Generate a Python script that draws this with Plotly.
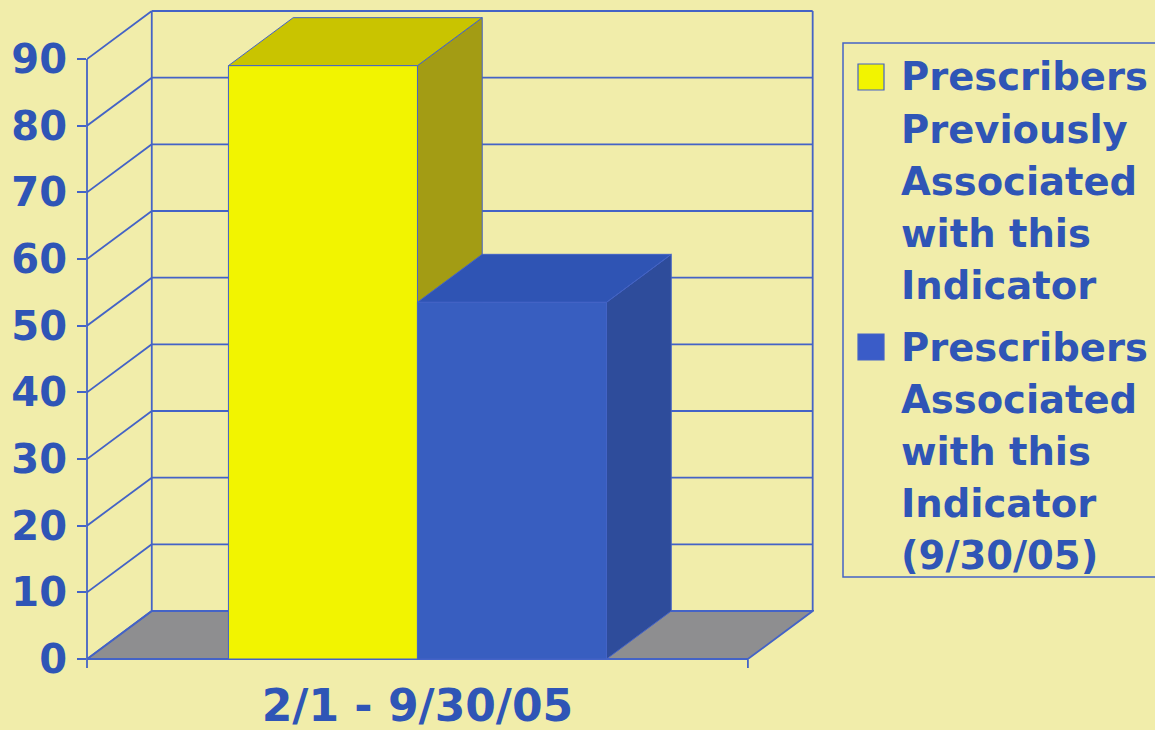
import textwrap
import plotly.graph_objects as go

# ---------------- data ----------------
CATEGORIES = ["2/1 - 9/30/05"]
SERIES_NAMES = [
    "Prescribers Previously Associated with this Indicator",
    "Prescribers Associated with this Indicator (9/30/05)",
]
SERIES_VALUES = [[89], [53.5]]
Y_TICKS = [0, 10, 20, 30, 40, 50, 60, 70, 80, 90]

# ---------------- styles ----------------
FRONT = ["#F2F400", "#385EC0"]
TOP = ["#C9C400", "#2F54B4"]
SIDE = ["#A39C14", "#2E4C9B"]
LEGEND_SWATCH = ["#F2F400", "#3A5CC8"]
LINE = "#4463C6"
TEXT = "#2F55B6"
BG = "#F1EDAA"
FLOOR = "#8E8E90"
FONT = "DejaVu Sans"

W, H = 1155, 730
ML, MR, MT, MB = 87, 341, 10, 71
PW = W - ML - MR
PH = H - MT - MB

X_RANGE = [-0.5, 0.6]
Y_RANGE = [0, 97.35]
BARGAP = 0.428
DEPTH_X = 0.098   # depth offset in category units
DEPTH_Y = 7.2     # depth offset in value units


def px_to_paper_x(px):
    return (px - ML) / PW


def px_to_paper_y(py):
    return (H - MB - py) / PH


n_series = len(SERIES_NAMES)
bar_w = (1 - BARGAP) / n_series
x_pos = list(range(len(CATEGORIES)))

fig = go.Figure()
for i, (name, vals) in enumerate(zip(SERIES_NAMES, SERIES_VALUES)):
    fig.add_trace(go.Bar(
        x=x_pos, y=vals, name=name,
        width=bar_w, offset=-(1 - BARGAP) / 2 + i * bar_w,
        marker=dict(color=FRONT[i], line=dict(color=LINE, width=1)),
        showlegend=False,
    ))

shapes = []


def line(x0, y0, x1, y1, ref=("x", "y"), width=1.8, color=LINE):
    shapes.append(dict(type="line", xref=ref[0], yref=ref[1], x0=x0, y0=y0, x1=x1, y1=y1,
                       line=dict(color=color, width=width), layer="below"))


def poly(points, fill, lw=1, lc=LINE):
    path = "M " + " L ".join(f"{x},{y}" for x, y in points) + " Z"
    shapes.append(dict(type="path", xref="x", yref="y", path=path, fillcolor=fill,
                       line=dict(color=lc, width=lw), layer="below"))


xl, xr = -0.5, 0.5
# floor
poly([(xl, 0), (xr, 0), (xr + DEPTH_X, DEPTH_Y), (xl + DEPTH_X, DEPTH_Y)], FLOOR, lw=1.8)
# back wall gridlines and side wall diagonals
top = max(Y_TICKS)
for v in Y_TICKS:
    line(xl + DEPTH_X, v + DEPTH_Y, xr + DEPTH_X, v + DEPTH_Y)
    line(xl, v, xl + DEPTH_X, v + DEPTH_Y)
line(xl + DEPTH_X, DEPTH_Y, xl + DEPTH_X, top + DEPTH_Y)
line(xr + DEPTH_X, DEPTH_Y, xr + DEPTH_X, top + DEPTH_Y)

# 3D bar faces
for i, vals in enumerate(SERIES_VALUES):
    for c, v in zip(x_pos, vals):
        x0 = c - (1 - BARGAP) / 2 + i * bar_w
        x1 = x0 + bar_w
        poly([(x1, 0), (x1, v), (x1 + DEPTH_X, v + DEPTH_Y), (x1 + DEPTH_X, DEPTH_Y)], SIDE[i])
        poly([(x0, v), (x1, v), (x1 + DEPTH_X, v + DEPTH_Y), (x0 + DEPTH_X, v + DEPTH_Y)], TOP[i])

# front value axis line and category boundary tick
tick_drop = 9 / PH
line(0, -tick_drop, 0, top / Y_RANGE[1], ref=("paper", "paper"))
xb = (xr - X_RANGE[0]) / (X_RANGE[1] - X_RANGE[0])
line(0, 0, xb, 0, ref=("paper", "paper"))
line(xb, -tick_drop, xb, 0, ref=("paper", "paper"))

# ---------------- legend (custom) ----------------
shapes.append(dict(type="rect", xref="paper", yref="paper",
                   x0=px_to_paper_x(843), x1=px_to_paper_x(1175),
                   y0=px_to_paper_y(577), y1=px_to_paper_y(43),
                   line=dict(color=LINE, width=1.5), fillcolor="rgba(0,0,0,0)"))
annotations = []
line_gap = 52
entry_gap = 10
cy = 77
for i, name in enumerate(SERIES_NAMES):
    lines = textwrap.wrap(name, width=11)
    shapes.append(dict(type="rect", xref="paper", yref="paper",
                       x0=px_to_paper_x(858), x1=px_to_paper_x(884),
                       y0=px_to_paper_y(cy - 13), y1=px_to_paper_y(cy + 13),
                       fillcolor=LEGEND_SWATCH[i], line=dict(color=LINE, width=1.2)))
    for ln in lines:
        annotations.append(dict(
            xref="paper", yref="paper", x=px_to_paper_x(899), y=px_to_paper_y(cy),
            xanchor="left", yanchor="middle", text=ln, showarrow=False,
            font=dict(family=FONT, size=38.5, color=TEXT, weight="bold"),
        ))
        cy += line_gap
    cy += entry_gap

fig.update_layout(
    width=W, height=H,
    margin=dict(l=ML, r=MR, t=MT, b=MB, pad=0),
    paper_bgcolor=BG, plot_bgcolor=BG,
    barmode="overlay",
    showlegend=False,
    shapes=shapes,
    annotations=annotations,
    xaxis=dict(range=X_RANGE, tickvals=x_pos, ticktext=CATEGORIES, showgrid=False,
               zeroline=False, showline=False, ticks="", automargin=False,
               ticklabelstandoff=17,
               tickfont=dict(family=FONT, size=44, color=TEXT, weight="bold")),
    yaxis=dict(range=Y_RANGE, tickvals=Y_TICKS, showgrid=False, zeroline=False,
               showline=False, ticks="outside", ticklen=9, tickwidth=1.5,
               tickcolor=LINE, automargin=False, ticklabelstandoff=2,
               tickfont=dict(family=FONT, size=40, color=TEXT, weight="bold")),
)

fig.write_html(
    "out.html",
    config={"displayModeBar": False},
    post_script=(
        "document.body.style.margin='0';"
        "document.body.style.padding='0';"
        "document.body.style.overflow='hidden';"
        f"document.body.style.background='{BG}';"
    ),
)
